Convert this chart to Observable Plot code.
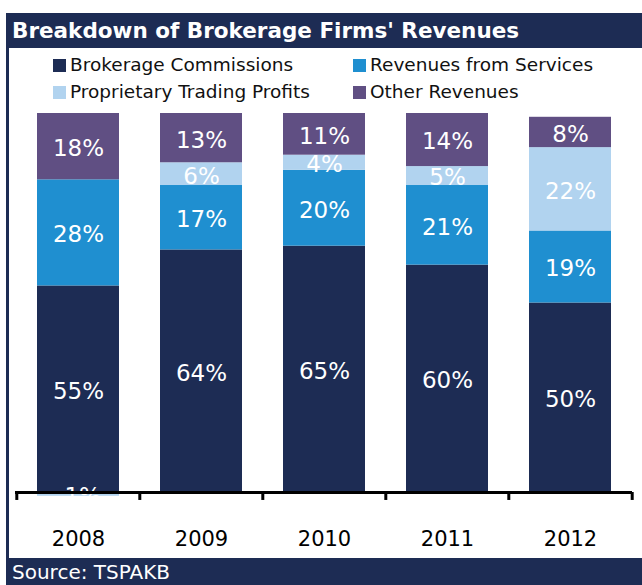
<!DOCTYPE html>
<html>
<head>
<meta charset="utf-8">
<script src="https://cdn.jsdelivr.net/npm/d3@7"></script>
<script src="https://cdn.jsdelivr.net/npm/@observablehq/plot@0.6"></script>
<style>
  html, body { margin: 0; padding: 0; background: white; }
  body { width: 642px; height: 585px; overflow: hidden; position: relative; font-family: "DejaVu Sans", sans-serif; }
  #frame { position: absolute; left: 6px; top: 13px; width: 636px; height: 572px; border-left: 3px solid #1d2c54; box-sizing: border-box; }
  #title { position: absolute; left: 6px; top: 13px; width: 636px; height: 35px; background: #1d2c54; color: white; font-weight: bold; font-size: 21.5px; line-height: 36px; padding-left: 6px; box-sizing: border-box; white-space: nowrap; }
  .leg { position: absolute; font-size: 18.5px; color: #111; white-space: nowrap; line-height: 20px; }
  .sw { position: absolute; width: 13px; height: 13px; }
  #chart { position: absolute; left: 0; top: 105px; }
  #source { position: absolute; left: 6px; top: 558px; width: 636px; height: 27px; background: #1d2c54; color: white; font-size: 20px; line-height: 28px; padding-left: 6px; box-sizing: border-box; white-space: nowrap; }
</style>
</head>
<body>
<div id="frame"></div>
<div id="title">Breakdown of Brokerage Firms' Revenues</div>
<div id="legend"></div>
<div id="chart"></div>
<div id="source">Source: TSPAKB</div>
<script>
const years = ["2008", "2009", "2010", "2011", "2012"];
const seriesNames = ["Brokerage Commissions", "Revenues from Services", "Proprietary Trading Profits", "Other Revenues"];
const colors = ["#1d2c54", "#1f8fd0", "#b1d3ef", "#604f83"];
const brokerage = [54.5, 64, 65, 60, 50];
const services = [28, 17, 20, 21, 19];
const proprietary = [-1, 6, 4, 5, 22];
const other = [17.5, 13, 11, 14, 8];

const seriesValues = [brokerage, services, proprietary, other];
const rows = [];
years.forEach((yr, i) => {
  seriesValues.forEach((vals, s) => {
    rows.push({year: yr, series: seriesNames[s], value: vals[i]});
  });
});

// Legend (HTML)
const legendPos = [
  {sx: 53, sy: 59, tx: 70, ty: 55},
  {sx: 353, sy: 59, tx: 370, ty: 55},
  {sx: 53, sy: 86, tx: 70, ty: 82},
  {sx: 353, sy: 86, tx: 370, ty: 82}
];
const legend = document.getElementById("legend");
seriesNames.forEach((name, i) => {
  const p = legendPos[i];
  const sw = document.createElement("div");
  sw.className = "sw";
  sw.style.left = p.sx + "px"; sw.style.top = p.sy + "px"; sw.style.background = colors[i];
  legend.appendChild(sw);
  const t = document.createElement("div");
  t.className = "leg";
  t.style.left = p.tx + "px"; t.style.top = p.ty + "px";
  t.textContent = name;
  legend.appendChild(t);
});

const W = 642, H = 453, ML = 15, MR = 10;
const step = (W - ML - MR) / years.length;

const plot = Plot.plot({
  width: W,
  height: H,
  marginLeft: ML,
  marginRight: MR,
  marginTop: 8,
  marginBottom: 66,
  style: {background: "transparent", fontFamily: "DejaVu Sans, sans-serif", overflow: "visible"},
  x: {domain: years, paddingInner: 0.335, paddingOuter: 0.1675, label: null},
  y: {domain: [0, 100], axis: null},
  color: {domain: seriesNames, range: colors},
  marks: [
    Plot.barY(rows, Plot.stackY({x: "year", y: "value", fill: "series"})),
    Plot.text(rows, Plot.stackY({x: "year", y: "value", z: "series", text: d => Math.round(d.value) + "%", fill: "white", fontSize: 23, dy: 2})),
    Plot.ruleY([0], {stroke: "black", strokeWidth: 3}),
    Plot.ruleX(years, {x: d => d, y1: 0, y2: -2.1, dx: -step / 2, stroke: "black", strokeWidth: 3}),
    Plot.ruleX(years.slice(-1), {x: d => d, y1: 0, y2: -2.1, dx: step / 2, stroke: "black", strokeWidth: 3}),
    Plot.axisX({tickSize: 0, tickPadding: 39, fontSize: 21, fill: "black", label: null})
  ]
});
document.getElementById("chart").appendChild(plot);
</script>
</body>
</html>
